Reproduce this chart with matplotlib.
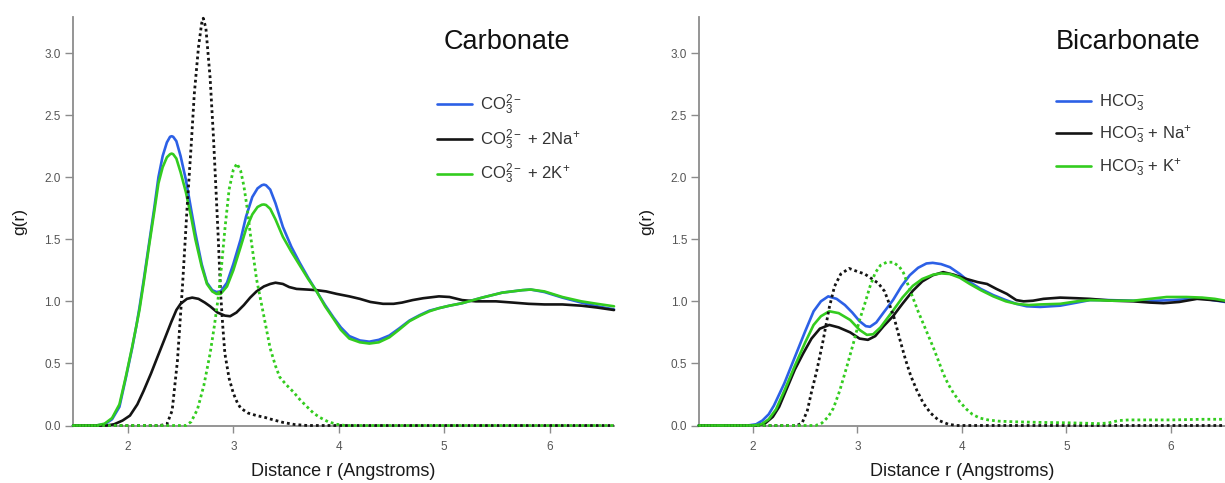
import matplotlib
matplotlib.use("Agg")
import matplotlib.pyplot as plt

plt.rcParams['font.family'] = ['Liberation Sans', 'DejaVu Sans']
plt.rcParams['mathtext.fontset'] = 'custom'
plt.rcParams['mathtext.rm'] = 'Liberation Sans'
plt.rcParams['mathtext.it'] = 'Liberation Sans'
plt.rcParams['mathtext.bf'] = 'Liberation Sans:bold'

# ---------------- Carbonate panel data ----------------
co3_r = [1.48, 1.70, 1.78, 1.85, 1.92, 1.98, 2.04, 2.08, 2.11, 2.15, 2.20, 2.25, 2.29, 2.33, 2.37,
         2.40, 2.415, 2.43, 2.46, 2.50, 2.55, 2.60, 2.64, 2.70, 2.75, 2.80, 2.84, 2.88, 2.94, 3.00,
         3.07, 3.12, 3.18, 3.23, 3.27, 3.29, 3.31, 3.35, 3.40, 3.47, 3.55, 3.63, 3.71, 3.79, 3.87,
         3.95, 4.02, 4.10, 4.20, 4.29, 4.38, 4.48, 4.57, 4.67, 4.77, 4.86, 4.95, 5.05, 5.17, 5.36,
         5.55, 5.74, 5.82, 5.95, 6.12, 6.30, 6.45, 6.61]
co3_g = [0.0, 0.0, 0.01, 0.05, 0.15, 0.38, 0.62, 0.80, 0.95, 1.17, 1.46, 1.75, 2.00, 2.17, 2.28,
         2.325, 2.33, 2.325, 2.29, 2.17, 1.98, 1.74, 1.55, 1.30, 1.15, 1.09, 1.075, 1.08, 1.15, 1.30,
         1.50, 1.68, 1.84, 1.91, 1.935, 1.94, 1.935, 1.90, 1.79, 1.60, 1.44, 1.31, 1.19, 1.08, 0.97,
         0.87, 0.79, 0.72, 0.685, 0.675, 0.69, 0.725, 0.78, 0.845, 0.89, 0.925, 0.945, 0.965, 0.985, 1.03,
         1.07, 1.09, 1.095, 1.075, 1.03, 0.99, 0.96, 0.935]

co3k_r = co3_r
co3k_g = [0.0, 0.0, 0.015, 0.06, 0.17, 0.39, 0.63, 0.80, 0.93, 1.15, 1.44, 1.72, 1.95, 2.08, 2.16,
          2.185, 2.19, 2.185, 2.15, 2.04, 1.88, 1.68, 1.50, 1.28, 1.14, 1.08, 1.06, 1.06, 1.12, 1.25,
          1.44, 1.58, 1.70, 1.76, 1.778, 1.78, 1.776, 1.745, 1.66, 1.52, 1.40, 1.29, 1.18, 1.08, 0.96,
          0.86, 0.77, 0.70, 0.67, 0.66, 0.67, 0.71, 0.77, 0.84, 0.885, 0.92, 0.945, 0.965, 0.985, 1.03,
          1.07, 1.09, 1.095, 1.08, 1.035, 1.0, 0.98, 0.96]

co3na_r = [1.48, 1.80, 1.87, 1.95, 2.02, 2.09, 2.15, 2.22, 2.28, 2.35, 2.41, 2.46, 2.50, 2.56, 2.61,
           2.67, 2.73, 2.78, 2.85, 2.92, 2.97, 3.03, 3.10, 3.16, 3.22, 3.29, 3.35, 3.40, 3.47, 3.53,
           3.60, 3.70, 3.79, 3.88, 3.98, 4.10, 4.20, 4.30, 4.42, 4.52, 4.60, 4.70, 4.80, 4.95, 5.05,
           5.17, 5.30, 5.49, 5.65, 5.80, 5.95, 6.12, 6.30, 6.45, 6.61]
co3na_g = [0.0, 0.0, 0.01, 0.04, 0.08, 0.17, 0.28, 0.42, 0.55, 0.70, 0.83, 0.93, 0.98, 1.02, 1.03,
           1.02, 0.99, 0.96, 0.91, 0.885, 0.88, 0.91, 0.97, 1.03, 1.08, 1.12, 1.14, 1.15, 1.14, 1.115,
           1.10, 1.095, 1.09, 1.08, 1.06, 1.04, 1.02, 0.995, 0.98, 0.98, 0.99, 1.01, 1.025, 1.04, 1.035,
           1.01, 1.0, 1.0, 0.99, 0.98, 0.975, 0.975, 0.965, 0.95, 0.93]

# dotted: cation distributions
na_r = [1.48, 2.30, 2.37, 2.42, 2.47, 2.52, 2.56, 2.60, 2.63, 2.67, 2.70, 2.715, 2.74, 2.78, 2.81,
        2.83, 2.855, 2.88, 2.90, 2.92, 2.96, 3.00, 3.04, 3.07, 3.14, 3.22, 3.30, 3.36, 3.47, 3.58,
        3.70, 6.61]
na_g = [0.0, 0.0, 0.01, 0.12, 0.52, 1.15, 1.73, 2.25, 2.67, 3.05, 3.24, 3.28, 3.20, 2.80, 2.35,
        2.00, 1.55, 1.06, 0.80, 0.58, 0.38, 0.26, 0.18, 0.14, 0.10, 0.08, 0.065, 0.05, 0.025, 0.008,
        0.0, 0.0]

k_r = [1.48, 2.55, 2.60, 2.66, 2.72, 2.78, 2.82, 2.86, 2.89, 2.92, 2.96, 3.00, 3.035, 3.07, 3.10,
       3.13, 3.16, 3.22, 3.29, 3.35, 3.40, 3.44, 3.50, 3.57, 3.63, 3.70, 3.76, 3.82, 3.90, 3.98,
       4.06, 6.61]
k_g = [0.0, 0.0, 0.03, 0.13, 0.32, 0.58, 0.80, 1.05, 1.30, 1.58, 1.90, 2.06, 2.11, 2.05, 1.93,
       1.76, 1.55, 1.18, 0.88, 0.62, 0.48, 0.39, 0.33, 0.27, 0.21, 0.15, 0.10, 0.065, 0.03, 0.01,
       0.0, 0.0]

# ---------------- Bicarbonate panel data ----------------
hco3_r = [1.48, 1.95, 2.03, 2.09, 2.15, 2.20, 2.30, 2.40, 2.50, 2.58, 2.65, 2.72, 2.80, 2.88, 2.95,
          3.02, 3.08, 3.12, 3.18, 3.25, 3.34, 3.42, 3.50, 3.58, 3.66, 3.72, 3.80, 3.885, 3.98, 4.075,
          4.18, 4.30, 4.42, 4.52, 4.62, 4.75, 4.94, 5.10, 5.225, 5.40, 5.64, 5.85, 6.02, 6.20, 6.30,
          6.40, 6.52]
hco3_g = [0.0, 0.0, 0.01, 0.04, 0.09, 0.16, 0.34, 0.55, 0.76, 0.92, 1.00, 1.04, 1.02, 0.97, 0.91,
          0.84, 0.80, 0.795, 0.83, 0.91, 1.01, 1.12, 1.21, 1.27, 1.305, 1.31, 1.30, 1.275, 1.22, 1.155,
          1.10, 1.05, 1.01, 0.98, 0.96, 0.955, 0.965, 0.99, 1.01, 1.01, 1.005, 1.005, 1.01, 1.02, 1.025,
          1.01, 0.995]

hco3k_r = [1.48, 2.00, 2.08, 2.15, 2.22, 2.30, 2.40, 2.50, 2.58, 2.65, 2.73, 2.82, 2.93, 3.02, 3.09,
           3.15, 3.22, 3.34, 3.43, 3.53, 3.62, 3.725, 3.80, 3.885, 3.98, 4.075, 4.18, 4.30, 4.42, 4.52,
           4.64, 4.75, 4.94, 5.10, 5.225, 5.45, 5.64, 5.80, 5.96, 6.15, 6.30, 6.42, 6.52]
hco3k_g = [0.0, 0.0, 0.01, 0.05, 0.13, 0.28, 0.48, 0.67, 0.81, 0.88, 0.92, 0.905, 0.85, 0.77, 0.73,
           0.735, 0.79, 0.925, 1.03, 1.125, 1.18, 1.215, 1.225, 1.22, 1.19, 1.14, 1.09, 1.04, 1.0, 0.98,
           0.97, 0.975, 0.98, 1.0, 1.01, 1.005, 1.005, 1.02, 1.035, 1.035, 1.03, 1.02, 1.005]

hco3na_r = [1.48, 2.05, 2.12, 2.19, 2.25, 2.32, 2.40, 2.48, 2.56, 2.64, 2.73, 2.82, 2.93, 3.02, 3.10,
            3.17, 3.25, 3.34, 3.43, 3.53, 3.62, 3.72, 3.82, 3.92, 4.045, 4.15, 4.24, 4.33, 4.43, 4.52,
            4.59, 4.68, 4.78, 4.94, 5.10, 5.225, 5.45, 5.64, 5.80, 5.93, 6.08, 6.25, 6.40, 6.52]
hco3na_g = [0.0, 0.0, 0.02, 0.07, 0.15, 0.29, 0.45, 0.58, 0.70, 0.78, 0.81, 0.79, 0.75, 0.70, 0.69,
            0.72, 0.80, 0.88, 0.98, 1.085, 1.16, 1.21, 1.235, 1.215, 1.18, 1.155, 1.14, 1.10, 1.06, 1.01,
            1.0, 1.005, 1.02, 1.03, 1.025, 1.02, 1.005, 1.0, 0.99, 0.985, 0.995, 1.02, 1.01, 1.0]

na2_r = [1.48, 2.42, 2.47, 2.52, 2.56, 2.61, 2.67, 2.73, 2.78, 2.84, 2.92, 3.00, 3.07, 3.14, 3.20,
         3.26, 3.30, 3.35, 3.41, 3.46, 3.51, 3.57, 3.63, 3.70, 3.78, 3.87, 3.95, 6.52]
na2_g = [0.0, 0.0, 0.02, 0.12, 0.27, 0.44, 0.68, 0.95, 1.12, 1.22, 1.265, 1.24, 1.22, 1.18, 1.145,
         1.08, 0.99, 0.87, 0.68, 0.53, 0.40, 0.28, 0.18, 0.10, 0.04, 0.01, 0.0, 0.0]

k2_r = [1.48, 2.60, 2.66, 2.72, 2.77, 2.83, 2.90, 2.96, 3.02, 3.07, 3.12, 3.17, 3.22, 3.28, 3.34,
        3.40, 3.44, 3.49, 3.53, 3.58, 3.63, 3.68, 3.725, 3.78, 3.82, 3.87, 3.92, 3.98, 4.045, 4.10,
        4.17, 4.25, 4.35, 4.50, 4.75, 5.00, 5.20, 5.30, 5.40, 5.50, 5.60, 6.00, 6.30, 6.52]
k2_g = [0.0, 0.0, 0.02, 0.07, 0.14, 0.28, 0.48, 0.66, 0.85, 0.98, 1.12, 1.23, 1.29, 1.315, 1.315,
        1.28, 1.23, 1.12, 1.03, 0.92, 0.82, 0.72, 0.63, 0.51, 0.42, 0.33, 0.26, 0.19, 0.13, 0.09,
        0.06, 0.045, 0.035, 0.03, 0.025, 0.022, 0.018, 0.015, 0.02, 0.04, 0.045, 0.045, 0.05, 0.05]

yticks = [0.0, 0.5, 1.0, 1.5, 2.0, 2.5, 3.0]
ytick_labels = ["0.0", "0.5", "1.0", "1.5", "2.0", "2.5", "3.0"]
xticks = [2, 3, 4, 5, 6]
xtick_labels = ["2", "3", "4", "5", "6"]

labels_left = [r'CO$_3^{2-}$', r'CO$_3^{2-}$ + 2Na$^{+}$', r'CO$_3^{2-}$ + 2K$^{+}$']
labels_right = [r'HCO$_3^{-}$', r'HCO$_3^{-}$ + Na$^{+}$', r'HCO$_3^{-}$ + K$^{+}$']

BLUE = '#2c60e6'
BLACK = '#141414'
GREEN = '#33cc1f'
SPINE = '#8c8c8c'
TICKC = '#555555'

W, H = 1225, 483
fig = plt.figure(figsize=(W / 100, H / 100), dpi=100)

def px_axes(x0, x1, ytop, ybot):
    return fig.add_axes([x0 / W, (H - ybot) / H, (x1 - x0) / W, (ybot - ytop) / H])

axL = px_axes(72.6, 614, 17, 425.5)
axR = px_axes(699, 1225, 17, 425.5)

def style(ax, xlim):
    ax.set_xlim(*xlim)
    ax.set_ylim(0, 3.29)
    for s in ('top', 'right'):
        ax.spines[s].set_visible(False)
    for s in ('left', 'bottom'):
        ax.spines[s].set_color(SPINE)
        ax.spines[s].set_linewidth(1.3)
    ax.set_yticks(yticks)
    ax.set_yticklabels(ytick_labels)
    ax.set_xticks(xticks)
    ax.set_xticklabels(xtick_labels)
    ax.tick_params(axis='both', colors=SPINE, labelcolor=TICKC, labelsize=8.5,
                   width=1, direction='out')
    ax.tick_params(axis='y', length=5.5, pad=3)
    ax.tick_params(axis='x', length=5, pad=6)
    ax.set_ylabel('g(r)', fontsize=12.5, color='#1a1a1a', labelpad=12)
    ax.set_xlabel('Distance r (Angstroms)', fontsize=13, color='#1a1a1a', labelpad=7)

def draw(ax, solids, dots, labels, title, tx, lx, xlim):
    style(ax, xlim)
    lines = []
    for (r, g, c, lab) in solids:
        ln, = ax.plot(r, g, color=c, lw=1.9, label=lab, clip_on=False, zorder=3,
                      solid_capstyle='round', solid_joinstyle='round')
        lines.append(ln)
    for (r, g, c) in dots:
        ax.plot(r, g, color=c, lw=2.0, linestyle=(0, (1, 1.1)), clip_on=False, zorder=4)
    ax.text(tx, 0.9395, title, transform=ax.transAxes, ha='center', va='center',
            fontsize=19.5, color='#111111')
    ax.legend(handles=lines, loc='upper left', bbox_to_anchor=(lx, 0.815),
              frameon=False, fontsize=12, handlelength=2.1, handletextpad=0.5,
              borderpad=0, borderaxespad=0, labelspacing=0.62, labelcolor='#333333')

draw(axL,
     [(co3_r, co3_g, BLUE, labels_left[0]),
      (co3na_r, co3na_g, BLACK, labels_left[1]),
      (co3k_r, co3k_g, GREEN, labels_left[2])],
     [(na_r, na_g, BLACK), (k_r, k_g, GREEN)],
     labels_left, 'Carbonate', 0.803, 0.673, (1.476, 6.61))

draw(axR,
     [(hco3_r, hco3_g, BLUE, labels_right[0]),
      (hco3na_r, hco3na_g, BLACK, labels_right[1]),
      (hco3k_r, hco3k_g, GREEN, labels_right[2])],
     [(na2_r, na2_g, BLACK), (k2_r, k2_g, GREEN)],
     labels_right, 'Bicarbonate', 0.8156, 0.679, (1.483, 6.518))

fig.savefig('out.png', dpi=100)
